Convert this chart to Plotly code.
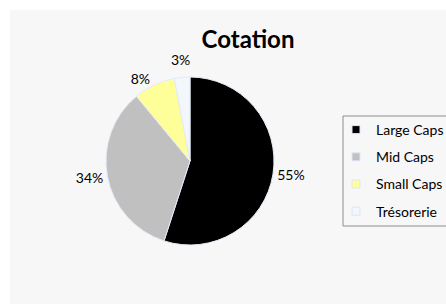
import math
import plotly.graph_objects as go

categories = ["Large Caps", "Mid Caps", "Small Caps", "Trésorerie"]
values = [55, 34, 8, 3]
colors = ["#000000", "#c0c0c0", "#ffff99", "#f3f6fb"]
title_text = "Cotation"

W, H = 446, 304
FONT = "Lato, 'Open Sans', sans-serif"

# pie geometry (pixels)
CX, CY, R = 190, 161, 84
total = sum(values)

# label texts: last slice label placed separately (avoids plotly leader line)
templates = ["%{percent:.0%}"] * (len(values) - 1) + [""]

fig = go.Figure()
fig.add_trace(go.Pie(
    labels=categories, values=values, sort=False, direction="clockwise",
    rotation=0, texttemplate=templates, textposition="outside",
    marker=dict(colors=colors, line=dict(color="#e4ebf7", width=1)),
    textfont=dict(family=FONT, size=14, color="#000000"),
    domain=dict(x=[(CX - R) / W, (CX + R) / W], y=[(H - CY - R) / H, (H - CY + R) / H]),
    showlegend=False, hoverinfo="label+percent",
))
for cat, col in zip(categories, colors):
    fig.add_trace(go.Scatter(
        x=[None], y=[None], mode="markers", name=cat, legendgroup=cat,
        marker=dict(symbol="square", size=8, color=col,
                    line=dict(color="#dde6f5", width=1)),
        showlegend=True,
    ))

# label for the last slice, from its mid angle
cum = sum(values[:-1]) + values[-1] / 2
theta = 2 * math.pi * cum / total
lx = CX + (R + 18) * math.sin(theta)
ly = CY - (R + 18) * math.cos(theta)
annotations = [dict(text=f"{round(100 * values[-1] / total)}%", x=lx / W, y=1 - ly / H,
                    xref="paper", yref="paper", showarrow=False,
                    xanchor="center", yanchor="middle",
                    font=dict(family=FONT, size=14, color="#000000"))]

fig.update_layout(
    width=W, height=H,
    margin=dict(l=0, r=0, t=0, b=0, autoexpand=False),
    paper_bgcolor="#ffffff", plot_bgcolor="rgba(0,0,0,0)",
    xaxis=dict(visible=False), yaxis=dict(visible=False),
    title=dict(text="<b>" + title_text + "</b>", x=248 / W, xanchor="center",
               y=1 - 40 / H, yanchor="middle",
               font=dict(family=FONT, size=24, color="#000000")),
    legend=dict(x=336 / W, xanchor="left", y=1 - 114 / H, yanchor="top",
                bgcolor="rgba(0,0,0,0)", borderwidth=0,
                font=dict(family=FONT, size=14, color="#000000"),
                tracegroupgap=6, itemwidth=30, traceorder="grouped"),
    annotations=annotations,
    shapes=[
        dict(type="rect", xref="paper", yref="paper", x0=10 / W, x1=1,
             y0=0, y1=1 - 10 / H, fillcolor="#f7f7f7",
             line=dict(width=0), layer="below"),
        dict(type="rect", xref="paper", yref="paper", x0=343 / W, x1=1.05,
             y0=1 - 226 / H, y1=1 - 116 / H, fillcolor="rgba(0,0,0,0)",
             line=dict(color="#8c8c8c", width=1), layer="above"),
    ],
)
fig.write_html("out.html", config={"displayModeBar": False},
               post_script="document.body.style.margin='0';")
